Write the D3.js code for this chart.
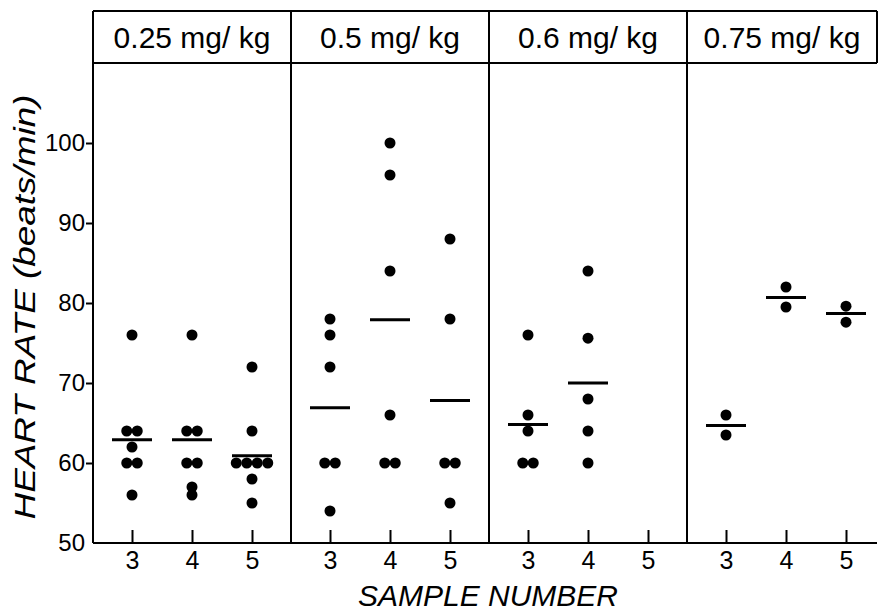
<!DOCTYPE html>
<html>
<head>
<meta charset="utf-8">
<script src="https://cdn.jsdelivr.net/npm/d3@7"></script>
<style>
  html, body { margin: 0; padding: 0; background: #fff; }
  svg { display: block; }
  text { font-family: "Liberation Sans", Arial, sans-serif; fill: #000; }
</style>
</head>
<body>
<svg id="chart" width="879" height="611"></svg>
<script>
// ---- data ----
const doses = ["0.25 mg/ kg", "0.5 mg/ kg", "0.6 mg/ kg", "0.75 mg/ kg"];
const samples = [3, 4, 5];
const yTicks = [50, 60, 70, 80, 90, 100];

// heart rate (beats/min) per sample number (3, 4, 5) for each dose
const rate025 = [[76, 64, 64, 62, 60, 60, 56], [76, 64, 64, 60, 60, 57, 56], [72, 64, 60, 60, 60, 60, 58, 55]];
const rate05  = [[78, 76, 72, 60, 60, 54], [100, 96, 84, 66, 60, 60], [88, 78, 60, 60, 55]];
const rate06  = [[76, 66, 64, 60, 60], [84, 75.6, 68, 64, 60], []];
const rate075 = [[66, 63.5], [82, 79.5], [79.6, 77.6]];

// mean bars as drawn in the picture
const mean025 = [62.9, 62.9, 60.9];
const mean05  = [66.9, 77.9, 67.8];
const mean06  = [64.8, 70.0, null];
const mean075 = [64.7, 80.7, 78.7];

const rates = [rate025, rate05, rate06, rate075];
const means = [mean025, mean05, mean06, mean075];

// ---- layout ----
const svg = d3.select("#chart");
const mLeft = 93, mRight = 877, mTop = 11, headBottom = 63, mBottom = 543;

const y = d3.scaleLinear().domain([50, 110]).range([mBottom, headBottom]);
const panel = d3.scaleBand().domain(doses).range([mLeft, 885]);
const bw = panel.bandwidth();
const xs = d3.scalePoint().domain(samples).range([0, bw]).padding(0.65);

// ---- frame ----
const frame = svg.append("g").attr("stroke", "#000").attr("stroke-width", 2).attr("fill", "none");
frame.append("line").attr("x1", mLeft).attr("x2", mRight).attr("y1", mTop).attr("y2", mTop);
frame.append("line").attr("x1", mLeft).attr("x2", mRight).attr("y1", headBottom).attr("y2", headBottom);
frame.append("line").attr("x1", mRight).attr("x2", mRight).attr("y1", mTop).attr("y2", headBottom);
frame.append("line").attr("x1", mLeft).attr("x2", mLeft).attr("y1", mTop).attr("y2", mBottom);
frame.append("line").attr("x1", mLeft).attr("x2", mRight).attr("y1", mBottom).attr("y2", mBottom);
doses.slice(1).forEach(d => {
  frame.append("line").attr("x1", panel(d)).attr("x2", panel(d)).attr("y1", mTop).attr("y2", mBottom);
});

// ---- headers ----
doses.forEach(d => {
  const x0 = panel(d), x1 = Math.min(x0 + bw, mRight);
  svg.append("text").attr("x", (x0 + x1) / 2).attr("y", 48)
    .attr("text-anchor", "middle").attr("font-size", 30).text(d);
});

// ---- y axis ----
const yAxis = svg.append("g").attr("transform", `translate(${mLeft},0)`)
  .call(d3.axisLeft(y).tickValues(yTicks).tickSize(7).tickPadding(1).tickFormat(d3.format("d")));
yAxis.select(".domain").remove();
yAxis.selectAll(".tick line").attr("stroke-width", 2).filter(d => d === 50).remove();
yAxis.selectAll(".tick text").attr("font-size", 24).attr("font-family", "Liberation Sans, Arial, sans-serif");

// ---- x axes per panel ----
doses.forEach(d => {
  const g = svg.append("g").attr("transform", `translate(${panel(d)},${mBottom})`)
    .call(d3.axisBottom(xs).tickSizeInner(-13).tickSizeOuter(0).tickPadding(8));
  g.select(".domain").remove();
  g.selectAll(".tick line").attr("stroke-width", 2);
  g.selectAll(".tick text").attr("font-size", 25).attr("font-family", "Liberation Sans, Arial, sans-serif");
});

// ---- dots & means ----
const gap = 10.5, rad = 5.5;
doses.forEach((d, pi) => {
  const g = svg.append("g").attr("transform", `translate(${panel(d)},0)`);
  samples.forEach((s, si) => {
    const vals = rates[pi][si];
    const counts = d3.rollup(vals, v => v.length, v => v);
    const seen = new Map();
    vals.forEach(v => {
      const n = counts.get(v);
      const i = seen.get(v) || 0; seen.set(v, i + 1);
      g.append("circle")
        .attr("cx", xs(s) + (i - (n - 1) / 2) * gap)
        .attr("cy", y(v)).attr("r", rad).attr("fill", "#000");
    });
    const m = means[pi][si];
    if (m != null) {
      g.append("line").attr("x1", xs(s) - 20).attr("x2", xs(s) + 20)
        .attr("y1", y(m)).attr("y2", y(m)).attr("stroke", "#000").attr("stroke-width", 3);
    }
  });
});

// ---- axis titles ----
svg.append("text").attr("x", 488).attr("y", 606).attr("text-anchor", "middle")
  .attr("font-size", 30).attr("font-style", "italic")
  .attr("textLength", 260).attr("lengthAdjust", "spacingAndGlyphs").text("SAMPLE NUMBER");
svg.append("text").attr("transform", "translate(35,307) rotate(-90)").attr("text-anchor", "middle")
  .attr("font-size", 30).attr("font-style", "italic")
  .attr("textLength", 425).attr("lengthAdjust", "spacingAndGlyphs").text("HEART RATE (beats/min)");
</script>
</body>
</html>
